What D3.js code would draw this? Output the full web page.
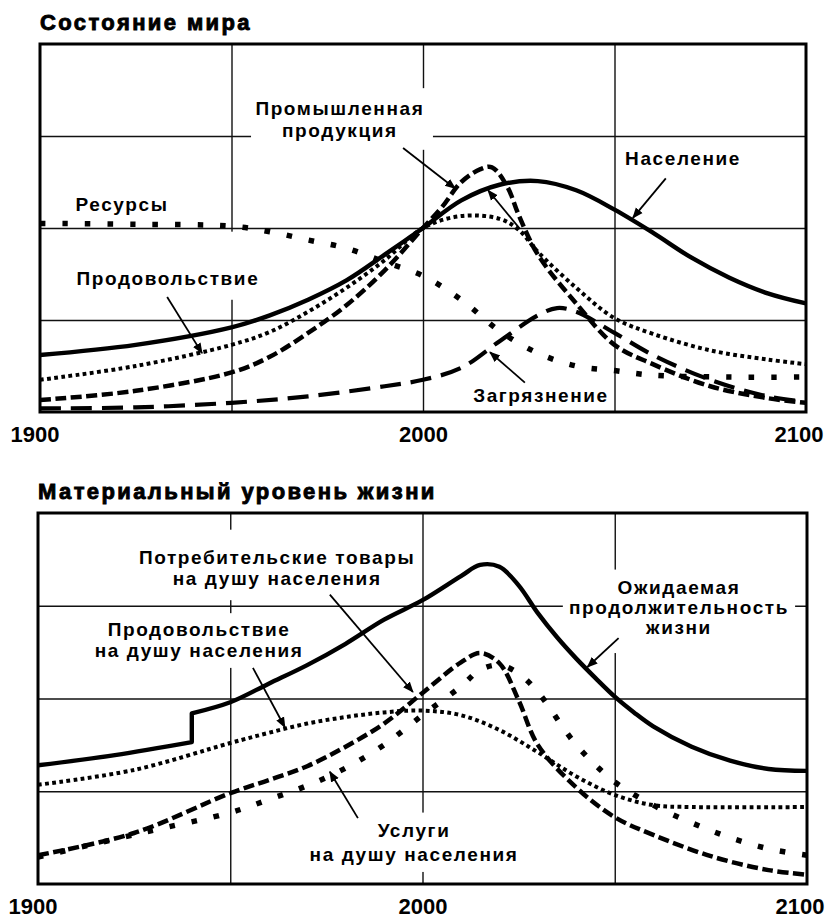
<!DOCTYPE html>
<html>
<head>
<meta charset="utf-8">
<script src="https://cdn.jsdelivr.net/npm/d3@7"></script>
<style>
  body { margin: 0; background: #fff; }
  text { font-family: "Liberation Sans", Arial, sans-serif; font-weight: bold; fill: #000; }
</style>
</head>
<body>
<div id="chart"></div>
<script>
// ---- data: [year, value] (value in grid units, 0..4) ----
const population = [[1900,0.62],[1925,0.73],[1950,0.92],[1960,1.05],[1970,1.22],[1980,1.43],[1990,1.71],[2000,2.0],[2010,2.3],[2020,2.47],[2030,2.51],[2040,2.41],[2050,2.2],[2060,1.95],[2070,1.68],[2080,1.46],[2090,1.29],[2100,1.18]];
const industry = [[1900,0.13],[1925,0.23],[1950,0.43],[1960,0.6],[1970,0.86],[1980,1.16],[1990,1.54],[2000,2.0],[2005,2.23],[2010,2.5],[2015,2.64],[2018,2.66],[2022,2.45],[2025,2.14],[2030,1.71],[2040,1.18],[2050,0.73],[2060,0.52],[2075,0.28],[2090,0.15],[2100,0.1]];
const food = [[1900,0.35],[1925,0.5],[1950,0.73],[1960,0.87],[1970,1.09],[1980,1.35],[1990,1.65],[2000,2.0],[2010,2.13],[2020,2.1],[2025,1.98],[2030,1.74],[2040,1.35],[2050,1.02],[2060,0.85],[2075,0.67],[2090,0.57],[2100,0.52]];
const resources = [[1900,2.05],[1925,2.04],[1950,2.02],[1960,1.96],[1970,1.87],[1980,1.78],[1990,1.63],[2000,1.48],[2010,1.22],[2020,0.88],[2030,0.64],[2040,0.5],[2050,0.45],[2060,0.4],[2080,0.38],[2100,0.38]];
const pollution = [[1900,0.04],[1925,0.05],[1950,0.1],[1970,0.17],[1990,0.28],[2000,0.35],[2010,0.48],[2020,0.77],[2030,1.05],[2035,1.13],[2040,1.09],[2050,0.86],[2060,0.62],[2075,0.35],[2090,0.17],[2100,0.11]];

const lifeBefore = [[1900,1.28],[1920,1.39],[1940,1.53]];
const lifeAfter = [[1940,1.84],[1950,1.96],[1960,2.16],[1970,2.36],[1980,2.59],[1990,2.85],[2000,3.06],[2010,3.32],[2015,3.44],[2020,3.42],[2025,3.22],[2030,2.92],[2035,2.66],[2040,2.43],[2045,2.22],[2050,2.02],[2055,1.85],[2060,1.7],[2070,1.48],[2080,1.33],[2090,1.24],[2100,1.22]];
const foodPerCapita = [[1900,1.07],[1925,1.23],[1950,1.52],[1960,1.63],[1970,1.73],[1980,1.8],[1990,1.85],[2000,1.87],[2010,1.82],[2020,1.66],[2030,1.42],[2040,1.16],[2050,0.96],[2060,0.85],[2070,0.83],[2100,0.83]];
const goodsPerCapita = [[1900,0.31],[1925,0.55],[1950,0.98],[1960,1.12],[1970,1.27],[1980,1.48],[1990,1.73],[2000,2.06],[2010,2.39],[2015,2.49],[2020,2.38],[2025,1.98],[2030,1.5],[2040,1.04],[2050,0.72],[2060,0.53],[2075,0.3],[2090,0.15],[2100,0.1]];
const servicesPerCapita = [[1900,0.29],[1930,0.58],[1950,0.77],[1960,0.91],[1970,1.06],[1980,1.25],[1990,1.5],[2000,1.82],[2010,2.13],[2015,2.31],[2020,2.36],[2025,2.27],[2030,2.07],[2040,1.5],[2050,1.1],[2060,0.85],[2070,0.66],[2080,0.5],[2090,0.38],[2100,0.31]];

const yearTicks = [1900, 2000, 2100];
const gridYears = [1950, 2000, 2050];
const gridValues = [1, 2, 3];

const titles = ["Состояние мира", "Материальный уровень жизни"];

const W = 828, H = 919;
const svg = d3.select("#chart").append("svg")
  .attr("width", W).attr("height", H);

svg.append("defs").append("marker")
  .attr("id", "arrow")
  .attr("viewBox", "0 0 10 10")
  .attr("refX", 9).attr("refY", 5)
  .attr("markerWidth", 11).attr("markerHeight", 11)
  .attr("markerUnits", "userSpaceOnUse")
  .attr("orient", "auto")
  .append("path")
  .attr("d", "M0,1 L10,5 L0,9 Z")
  .attr("fill", "#000");

// styles for the line types
const styles = {
  solid: { w: 4.4, dash: null },
  dashed: { w: 4.5, dash: "11,4.5" },
  longdash: { w: 4.2, dash: "21,10" },
  dotted: { w: 4, dash: "3.8,3.4" },
  bigdots: { w: 5.5, dash: "5.5,17" }
};

function panel(cfg) {
  const x = d3.scaleLinear().domain([1900, 2100]).range([cfg.left, cfg.right]);
  const y = d3.scaleLinear().domain([0, 4]).range([cfg.bottom, cfg.top]);
  const g = svg.append("g");

  g.append("text")
    .attr("x", cfg.left)
    .attr("y", cfg.top - 14)
    .style("font-size", "22px")
    .style("letter-spacing", "2.4px")
    .attr("stroke", "#000")
    .attr("stroke-width", 0.9)
    .text(cfg.title);

  // grid
  g.append("g")
    .attr("transform", "translate(0," + cfg.bottom + ")")
    .call(d3.axisBottom(x).tickValues(gridYears).tickSize(-(cfg.bottom - cfg.top)).tickFormat(""))
    .call(s => s.select(".domain").remove())
    .selectAll("line").attr("stroke", "#111").attr("stroke-width", 1.4);
  g.append("g")
    .attr("transform", "translate(" + cfg.left + ",0)")
    .call(d3.axisLeft(y).tickValues(gridValues).tickSize(-(cfg.right - cfg.left)).tickFormat(""))
    .call(s => s.select(".domain").remove())
    .selectAll("line").attr("stroke", "#111").attr("stroke-width", 1.4);

  // white boxes behind labels
  cfg.labels.filter(d => d.box).forEach(d => {
    g.append("rect")
      .attr("x", x(d.box[0])).attr("y", y(d.box[1]))
      .attr("width", x(d.box[2]) - x(d.box[0]))
      .attr("height", y(d.box[3]) - y(d.box[1]))
      .attr("fill", "#fff");
  });

  const line = d3.line()
    .curve(d3.curveCatmullRom.alpha(0.5))
    .x(d => x(d[0]))
    .y(d => y(d[1]));

  cfg.series.forEach(s => {
    const st = styles[s.style];
    let d = line(s.data);
    if (s.data2) d += line(s.data2).replace(/^M/, "L");
    g.append("path")
      .attr("d", d)
      .attr("fill", "none")
      .attr("stroke", "#000")
      .attr("stroke-width", st.w)
      .attr("stroke-dasharray", st.dash)
      .attr("stroke-linejoin", "round");
  });

  // frame
  g.append("rect")
    .attr("x", cfg.left).attr("y", cfg.top)
    .attr("width", cfg.right - cfg.left).attr("height", cfg.bottom - cfg.top)
    .attr("fill", "none").attr("stroke", "#000").attr("stroke-width", 3);

  // labels + arrows
  cfg.labels.forEach(d => {
    const t = g.append("text")
      .attr("text-anchor", "middle")
      .style("font-size", "19px")
      .style("letter-spacing", "1.6px");
    d.lines.forEach((s, i) => {
      t.append("tspan")
        .attr("x", x(d.at[0]))
        .attr("y", y(d.at[1]) + i * d.lh)
        .text(s);
    });
    if (d.arrow) {
      g.append("line")
        .attr("x1", x(d.arrow[0])).attr("y1", y(d.arrow[1]))
        .attr("x2", x(d.arrow[2])).attr("y2", y(d.arrow[3]))
        .attr("stroke", "#000").attr("stroke-width", 1.8)
        .attr("marker-end", "url(#arrow)");
    }
  });
  (cfg.extraArrows || []).forEach(a => {
    g.append("line")
      .attr("x1", x(a[0])).attr("y1", y(a[1]))
      .attr("x2", x(a[2])).attr("y2", y(a[3]))
      .attr("stroke", "#000").attr("stroke-width", 1.8)
      .attr("marker-end", "url(#arrow)");
  });

  // year axis
  const ax = g.append("g")
    .attr("transform", "translate(0," + cfg.bottom + ")")
    .call(d3.axisBottom(x).tickValues(yearTicks).tickSize(0).tickPadding(14).tickFormat(d3.format("d")));
  ax.select(".domain").remove();
  ax.selectAll("text")
    .style("font-size", "22px")
    .style("font-family", "Liberation Sans, Arial, sans-serif")
    .style("font-weight", "bold")
    .attr("fill", "#000")
    .attr("text-anchor", (d, i) => i === 0 ? "start" : i === 2 ? "end" : "middle")
    .attr("dx", (d, i) => i === 0 ? -30 : i === 2 ? 17 : 0);
}

panel({
  title: titles[0],
  left: 40, right: 806, top: 44, bottom: 412,
  series: [
    { data: pollution, style: "longdash" },
    { data: resources, style: "bigdots" },
    { data: food, style: "dotted" },
    { data: industry, style: "dashed" },
    { data: population, style: "solid" }
  ],
  labels: [
    { lines: ["Промышленная", "продукция"], at: [1978.3, 3.23], lh: 22,
      box: [1955.1, 3.52, 2002.6, 2.85], arrow: [1994.8, 2.87, 2008.4, 2.43] },
    { lines: ["Население"], at: [2067.9, 2.68], lh: 0, arrow: [2063.4, 2.54, 2054.8, 2.11] },
    { lines: ["Ресурсы"], at: [1921.4, 2.18], lh: 0 },
    { lines: ["Продовольствие"], at: [1933.4, 1.38], lh: 0,
      box: [1909.1, 1.96, 1958, 1.22], arrow: [1933.2, 1.25, 1942.3, 0.64] },
    { lines: ["Загрязнение"], at: [2030.8, 0.11], lh: 0,
      box: [2012.3, 0.54, 2049.3, 0.09], arrow: [2026.6, 0.32, 2017.5, 0.65] }
  ],
  extraArrows: [[2025.3, 1.99, 2017, 2.41]]
});

panel({
  title: titles[1],
  left: 38, right: 807, top: 513, bottom: 884,
  series: [
    { data: servicesPerCapita, style: "bigdots" },
    { data: foodPerCapita, style: "dotted" },
    { data: goodsPerCapita, style: "dashed" },
    { data: lifeBefore, data2: lifeAfter, style: "solid" }
  ],
  labels: [
    { lines: ["Потребительские товары", "на душу населения"], at: [1962.2, 3.45], lh: 21,
      box: [1925.2, 3.82, 1998.8, 3.06], arrow: [1975.9, 3.12, 1997.5, 2.07] },
    { lines: ["Продовольствие", "на душу населения"], at: [1941.9, 2.67], lh: 21,
      box: [1913.5, 2.92, 1970.7, 2.33], arrow: [1955.9, 2.33, 1964.2, 1.69] },
    { lines: ["Ожидаемая", "продолжительность", "жизни"], at: [2066.7, 3.13], lh: 20,
      box: [2036.5, 3.39, 2096.9, 2.49], arrow: [2051, 2.65, 2042.9, 2.34] },
    { lines: ["Услуги", "на душу населения"], at: [1997.8, 0.51], lh: 24,
      box: [1969.4, 0.77, 2026.7, 0.13], arrow: [1983.2, 0.71, 1975.9, 1.21] }
  ]
});
</script>
</body>
</html>
